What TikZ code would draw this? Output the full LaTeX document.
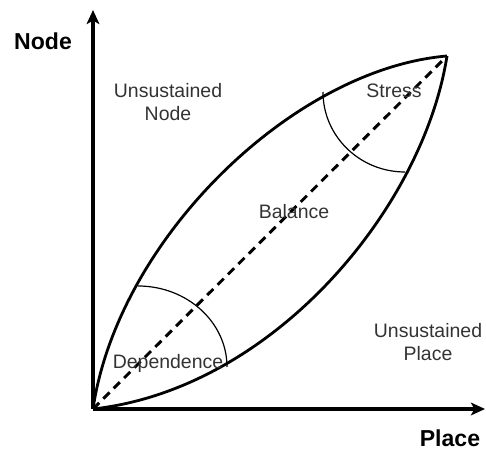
\documentclass[tikz,border=0pt]{standalone}
\usepackage{fontspec}
\setmainfont{Liberation Sans}
\usetikzlibrary{arrows.meta, positioning}

\begin{document}
\begin{tikzpicture}[
    x=0.75pt, y=0.75pt,
    axis/.style={draw, line width=2.5pt, -{Stealth[length=10.5pt, width=9.5pt, inset=2.5pt]}},
    curve/.style={draw, line width=2.1pt},
    boundary/.style={draw, line width=0.9pt},
    diagonal/.style={draw, line width=2.2pt, dash pattern=on 6.5pt off 4.5pt},
    region/.style={text=black!80, font=\fontsize{14.6}{17.3}\selectfont, align=center},
    axislabel/.style={inner sep=0pt, font=\fontsize{17.3}{20}\selectfont\bfseries}
]
\useasboundingbox (-93,-43) rectangle (393,409);

% Anchor points
\coordinate (origin) at (0,0);
\coordinate (ytip) at (0,399);
\coordinate (xtip) at (392,0);
\coordinate (peak) at (354,353);

% Axes
\draw[axis] (origin) -- (ytip);
\draw[axis] (origin) -- (xtip);

% Lens
\draw[curve] (origin) .. controls (25,170) and (200,340) .. (peak);
\draw[curve] (origin) .. controls (180,20) and (330,200) .. (peak);
\draw[diagonal] (origin) -- (peak);

% Zone borders
\draw[boundary] (45,123) arc[start angle=90, end angle=0, x radius=89, y radius=81];
\draw[boundary] (230,317) arc[start angle=180, end angle=270, x radius=82, y radius=80];

% Labels
\node[axislabel] (nodelabel) at (-50,368) {Node};
\node[axislabel] (placelabel) at (357,-29) {Place};
\node[region] (unode) at (75,307) {Unsustained\\Node};
\node[region] (uplace) at (335,67) {Unsustained\\Place};
\node[region, anchor=base] (stress) at (301,311) {Stress};
\node[region, anchor=base] (balance) at (201,190) {Balance};
\node[region, anchor=base] (dependence) at (75,40) {Dependence};

\end{tikzpicture}
\end{document}
